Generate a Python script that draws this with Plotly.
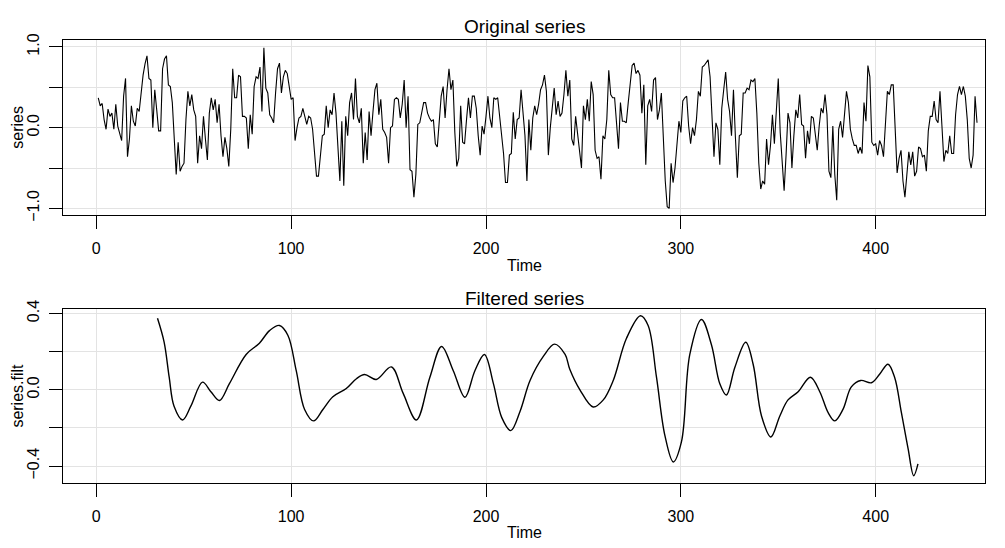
import plotly.graph_objects as go

# ---------------- data ----------------
series_values = [
    0.37, 0.27, 0.30, 0.10, -0.02, 0.23, 0.14, 0.18, -0.02, 0.29,
    0.02, -0.06, -0.16, 0.39, 0.61, -0.36, -0.14, 0.27, 0.08, 0.02,
    0.24, 0.20, 0.47, 0.65, 0.79, 0.89, 0.61, 0.59, 0.00, 0.47,
    0.22, -0.04, -0.04, 0.73, 0.85, 0.89, 0.53, 0.51, 0.31, -0.18,
    -0.58, -0.18, -0.54, -0.48, -0.44, 0.10, 0.45, 0.27, 0.41, 0.22,
    0.14, -0.44, -0.10, -0.26, 0.14,
    -0.14, -0.40, 0.18, 0.37, 0.22, 0.35, 0.06, 0.29, -0.10, -0.36,
    -0.12, -0.26, -0.48, -0.02, 0.73, 0.37, 0.37, 0.65, 0.63, 0.14,
    0.14, 0.12, -0.26, 0.16, -0.08, 0.51, 0.63, 0.61, 0.75, 0.20,
    0.99, 0.49, 0.43, 0.16, 0.12, 0.06, 0.43, 0.73, 0.80, 0.43,
    0.63, 0.71, 0.67, 0.51, 0.35, 0.37, -0.16, 0.00, 0.12, 0.14,
    0.24, 0.14, 0.04, 0.14, 0.12, -0.02, -0.36,
    -0.60, -0.60, -0.30, -0.10, -0.08, 0.27, 0.00, 0.22, 0.16, 0.43,
    0.18, -0.22, -0.66, 0.08, -0.72, 0.14, -0.10, 0.31, 0.43, 0.10,
    0.61, 0.14, 0.06, 0.24, -0.44, -0.06, -0.40, 0.20, -0.10, 0.20,
    0.47, 0.55, 0.16, 0.35, -0.02, -0.06, -0.12, -0.44, 0.00, 0.02,
    0.35, 0.37, 0.35, 0.12, 0.29, 0.59, 0.00, 0.39, -0.52, -0.54,
    -0.86, -0.58, 0.04, 0.06, 0.20, 0.31,
    0.31, 0.18, 0.12, 0.08, 0.10, -0.20, -0.24, 0.14, 0.39, 0.51,
    0.12, 0.47, 0.73, 0.47, 0.59, -0.06, -0.48, -0.38, 0.27, -0.18,
    -0.20, 0.10, 0.37, 0.12, 0.39, 0.39, 0.24, -0.10, -0.34, 0.02,
    -0.08, 0.14, 0.39, 0.12, 0.00, 0.37, 0.35, 0.37, 0.14, -0.10,
    -0.32, -0.68, -0.68, -0.34, -0.32, 0.19, -0.14, 0.10, 0.12, 0.47,
    0.14, -0.10, -0.66, 0.10, -0.28, 0.12,
    0.27, 0.16, 0.29, 0.47, 0.53, 0.65, 0.45, -0.34, 0.00, 0.24,
    0.49, 0.16, 0.33, 0.14, 0.18, 0.41, 0.71, 0.39, 0.59, -0.14,
    -0.22, 0.14, -0.10, -0.34, -0.50, 0.27, 0.10, 0.35, 0.08, 0.57,
    0.41, -0.28, -0.38, -0.36, -0.64, -0.10, -0.14, 0.10, 0.71, 0.41,
    0.37, 0.37, 0.06, -0.26, 0.31, 0.08, 0.08, 0.06, 0.31, 0.51,
    0.77, 0.80, 0.67, 0.71, 0.65, 0.18, 0.53,
    -0.46, 0.27, 0.35, 0.20, 0.59, 0.62, 0.10, 0.22, 0.43, -0.10,
    -0.66, -0.98, -1.00, -0.44, -0.68, -0.50, -0.16, 0.08, -0.06, 0.33,
    0.37, 0.39, 0.02, -0.20, 0.00, -0.10, 0.10, 0.45, 0.39, 0.75,
    0.77, 0.81, 0.84, 0.63, 0.14, -0.36, 0.06, -0.02, -0.46, 0.24,
    0.47, 0.69, 0.35, 0.20, -0.10, 0.47, -0.12, -0.62, -0.10, -0.08,
    0.43, 0.43, 0.49, 0.47, 0.59, 0.57,
    0.61, 0.18, -0.44, -0.76, -0.66, -0.70, -0.14, -0.46, -0.22, 0.16,
    -0.20, 0.18, 0.61, -0.06, -0.46, -0.78, -0.34, 0.18, 0.06, -0.50,
    -0.10, 0.22, 0.12, 0.41, 0.04, 0.02, -0.38, -0.04, -0.20, 0.14,
    0.12, -0.08, -0.28, 0.02, 0.24, 0.18, 0.41, 0.16, -0.54, -0.62,
    0.02, -0.58, -0.90, -0.02, 0.08, -0.12, 0.18, 0.45, 0.31, -0.02,
    -0.14, -0.22, -0.22, -0.32, -0.24, -0.32, 0.31,
    0.08, 0.77, 0.63, -0.18, -0.22, -0.20, -0.34, -0.16, -0.22, -0.36,
    0.10, 0.45, 0.41, 0.53, 0.53, -0.02, -0.56, -0.38, -0.28, -0.66,
    -0.86, -0.58, -0.30, -0.46, -0.30, -0.60, -0.54, -0.24, -0.26, -0.36,
    -0.34, -0.54, -0.04, 0.14, 0.14, 0.33, 0.10, 0.06, 0.45, 0.02,
    -0.42, -0.28, -0.32, -0.10, -0.32, -0.32, 0.16, 0.41, 0.51, 0.41,
    0.51, 0.39, 0.10, -0.38, -0.50, -0.34, 0.39, 0.06,
]
series_time = list(range(1, len(series_values) + 1))

filt_time = [
    31.4, 34.8, 37.4, 39.9, 44.3, 48.5, 54.5, 58.8, 63.2, 68.3,
    76.9, 83.7, 88.9, 94.0, 98.3, 102.6, 106.9, 111.5, 116.3, 121.4,
    128.3, 133.5, 137.7, 143.7, 151.4, 157.5, 164.3, 171.2, 177.2, 183.2,
    189.2, 194.3, 199.2, 203.8, 208.1, 212.7, 217.5, 222.6, 229.5, 235.2,
    240.6, 243.0, 248.2, 255.0, 260.2, 265.3, 272.1, 279.3, 283.2, 287.5,
    291.8, 296.1, 300.3, 304.6, 310.6, 315.7, 320.0, 323.4, 327.7, 333.3,
    337.1, 341.4, 346.2, 350.8, 355.0, 360.2, 366.5, 371.3, 375.6, 379.0,
    383.2, 387.5, 392.3, 397.8, 402.1, 406.3, 409.7, 413.2, 416.6, 419.5,
    421.7,
]
filt_values = [
    0.375, 0.25, 0.066, -0.086, -0.158, -0.086, 0.04, -0.01, -0.056, 0.032,
    0.185, 0.244, 0.31, 0.337, 0.286, 0.10, -0.103, -0.163, -0.103, -0.036,
    0.007, 0.058, 0.08, 0.054, 0.12, -0.019, -0.158, 0.066, 0.227, 0.10,
    -0.039, 0.10, 0.185, 0.032, -0.146, -0.214, -0.112, 0.049, 0.176, 0.239,
    0.185, 0.108, 0.0, -0.09, -0.053, 0.049, 0.27, 0.388, 0.337, 0.066,
    -0.239, -0.378, -0.273, 0.185, 0.368, 0.236, 0.032, -0.027, 0.117, 0.249,
    0.134, -0.137, -0.247, -0.137, -0.053, -0.01, 0.066, -0.01, -0.12, -0.163,
    -0.103, 0.015, 0.049, 0.037, 0.083, 0.134, 0.066, -0.12, -0.307, -0.45,
    -0.388,
]

x_ticks = [0, 100, 200, 300, 400]
top_y_ticks = [-1.0, -0.5, 0.0, 0.5, 1.0]
top_y_labels = ["\u22121.0", "", "0.0", "", "1.0"]
bot_y_ticks = [-0.4, -0.2, 0.0, 0.2, 0.4]
bot_y_labels = ["\u22120.4", "", "0.0", "", "0.4"]

# ---------------- figure ----------------
W, H = 1005, 548
FONT = "Liberation Sans, Arial, Helvetica, sans-serif"

def px(v):
    return v / W

def py(v):
    return 1 - v / H

fig = go.Figure()
fig.add_trace(go.Scatter(x=series_time, y=series_values, mode="lines",
                         line=dict(color="black", width=1.1),
                         xaxis="x", yaxis="y", showlegend=False))
fig.add_trace(go.Scatter(x=filt_time, y=filt_values, mode="lines",
                         line=dict(color="black", width=1.4, shape="spline", smoothing=1.0),
                         xaxis="x2", yaxis="y2", showlegend=False))

xdom = [px(63), px(985)]
common_x = dict(range=[-17.1, 456.1], tickvals=x_ticks, ticks="outside", ticklen=13,
                tickcolor="black", tickwidth=1, showline=True, linecolor="black",
                linewidth=1, mirror=True, showgrid=True, gridcolor="#e3e3e3",
                gridwidth=1, zeroline=False, tickfont=dict(size=16, color="black", family=FONT),
                ticklabelstandoff=6)
common_y = dict(ticks="outside", ticklen=13, tickcolor="black", tickwidth=1,
                showline=True, linecolor="black", linewidth=1, mirror=True,
                showgrid=True, gridcolor="#e3e3e3", gridwidth=1, zeroline=False,
                tickangle=-90, tickfont=dict(size=16, color="black", family=FONT),
                ticklabelstandoff=4)

fig.update_layout(
    width=W, height=H,
    margin=dict(l=0, r=0, t=0, b=0),
    paper_bgcolor="white", plot_bgcolor="white",
    font=dict(family=FONT, color="black"),
    xaxis=dict(domain=xdom, anchor="y", **common_x),
    yaxis=dict(domain=[py(212), py(32)], anchor="x", range=[-1.0843, 1.0843],
               tickvals=top_y_ticks, ticktext=top_y_labels, **common_y),
    xaxis2=dict(domain=xdom, anchor="y2", **common_x),
    yaxis2=dict(domain=[py(487), py(308)], anchor="x2", range=[-0.4866, 0.4255],
                tickvals=bot_y_ticks, ticktext=bot_y_labels, **common_y),
)

cx = (63 + 985) / 2
annots = [
    dict(text="Original series", x=px(cx), y=py(18), size=19, angle=0),
    dict(text="Time", x=px(cx), y=py(264), size=16, angle=0),
    dict(text="series", x=px(18), y=py(122), size=16, angle=-90),
    dict(text="Filtered series", x=px(cx), y=py(298), size=19, angle=0),
    dict(text="Time", x=px(cx), y=py(538), size=16, angle=0),
    dict(text="series.filt", x=px(18), y=py(397.5), size=16, angle=-90),
]
for a in annots:
    fig.add_annotation(text=a["text"], x=a["x"], y=a["y"], xref="paper", yref="paper",
                       xanchor="center", yanchor="middle", showarrow=False,
                       textangle=a["angle"], font=dict(size=a["size"], color="black", family=FONT))

fig.write_html("out.html")
